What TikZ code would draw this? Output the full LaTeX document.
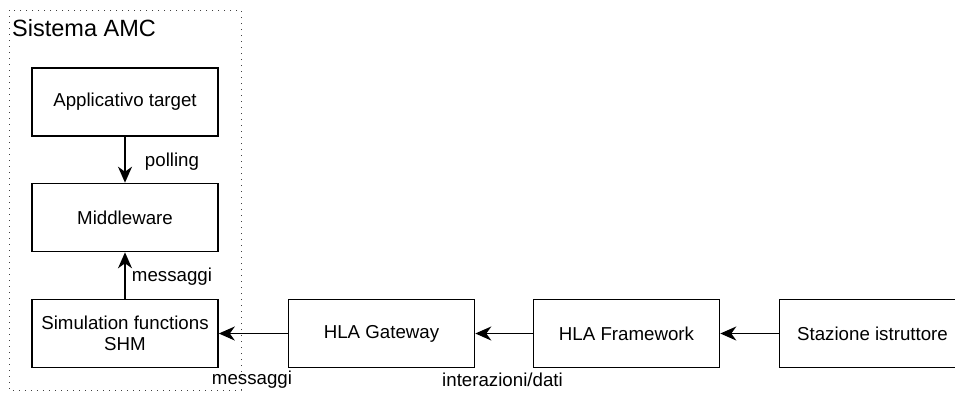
\documentclass[tikz,border=0pt]{standalone}
\usepackage{fontspec}
\setmainfont{Liberation Sans}
\usetikzlibrary{arrows.meta}
\begin{document}
\begin{tikzpicture}[x=1pt,y=-1pt,
  blk/.style={draw=black,line width=1.6pt,rectangle,inner sep=0pt,
    minimum width=186pt,minimum height=68pt,align=center,
    font=\fontsize{18.7}{21}\selectfont},
  lbl/.style={inner sep=0pt,font=\fontsize{18.7}{21}\selectfont},
  link/.style={line width=1.6pt,-{Stealth[length=16pt,width=14pt,inset=5pt]}},
  frame/.style={draw=black!75,line width=1pt,dash pattern=on 1.2pt off 4.8pt}]
\useasboundingbox (0,0) rectangle (955,392);
\clip (0,0) rectangle (955,392);

% container of the AMC system
\draw[frame] (9,10) rectangle (241,390);
\node[anchor=base west,inner sep=0pt,font=\fontsize{23.5}{26}\selectfont] (title) at (12,36) {Sistema AMC};

% blocks
\node[blk] (app) at (125,102) {Applicativo target};
\node[blk] (mid) at (125,217.5) {Middleware};
\node[blk] (shm) at (125,333.5) {Simulation functions\\SHM};
\node[blk] (gw)  at (381.5,333.5) {HLA Gateway};
\node[blk] (fw)  at (626.5,333.5) {HLA Framework};
\node[blk] (st)  at (872.5,333.5) {Stazione istruttore};

% connectors
\draw[link] (app) -- (mid);
\draw[link] (shm) -- (mid);
\draw[link] (gw) -- (shm);
\draw[link] (fw) -- (gw);
\draw[link] (st) -- (fw);

% connector labels
\node[lbl] (lpoll) at (172,162) {polling};
\node[lbl] (lmsg1) at (172,277) {messaggi};
\node[lbl] (lmsg2) at (252,380) {messaggi};
\node[lbl] (lint)  at (502.5,380) {interazioni/dati};
\end{tikzpicture}
\end{document}
